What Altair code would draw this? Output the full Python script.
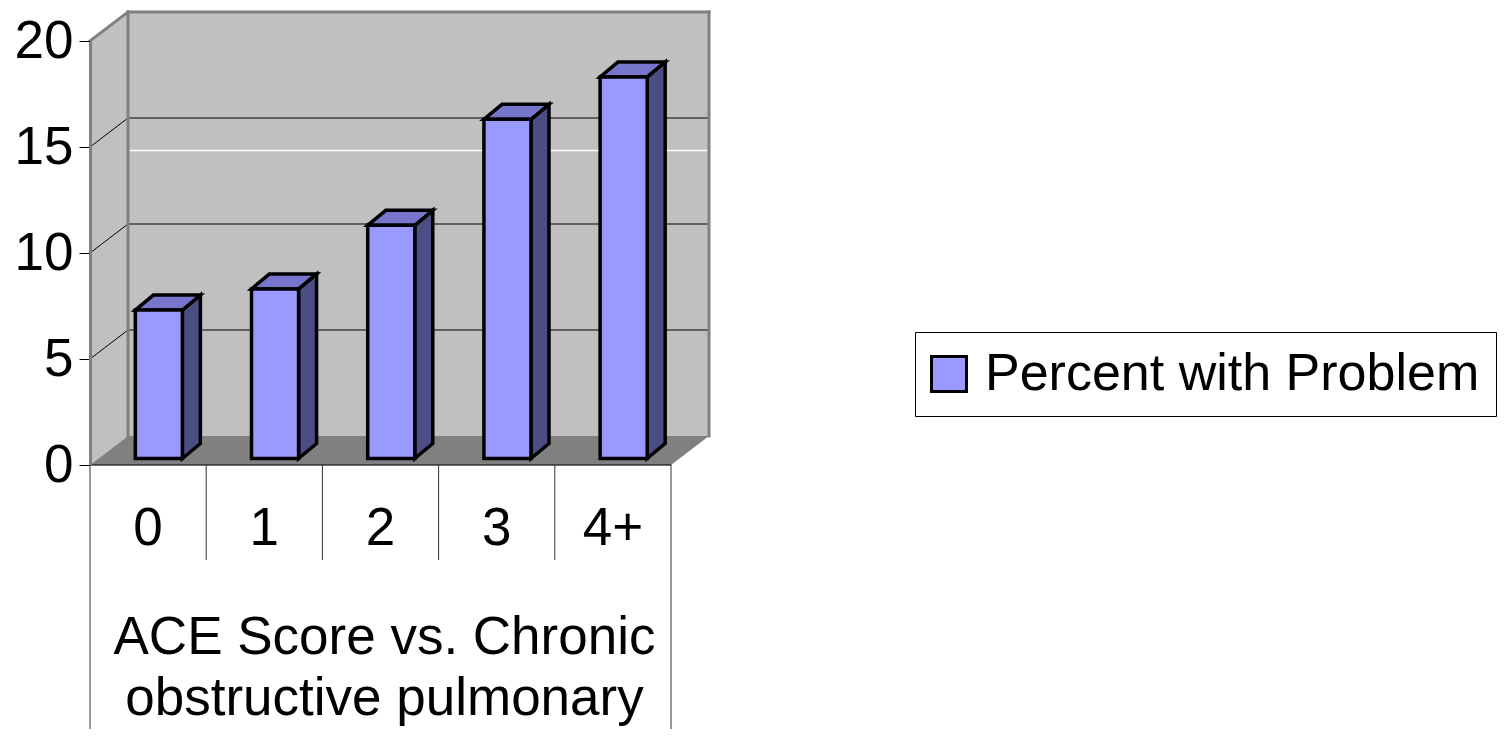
import altair as alt
import pandas as pd

# ---------------- data ----------------
categories = ["0", "1", "2", "3", "4+"]
values = [7, 8, 11, 16, 18]
series_name = "Percent with Problem"
y_ticks = [0, 5, 10, 15, 20]
title_lines = ["ACE Score vs. Chronic", "obstructive pulmonary"]

# ---------------- geometry / styles ----------------
FONT = "Liberation Sans"
FS = 53
W, H = 581, 424                      # front plane of the 3-D box (plot area)
N = len(categories)
YMAX = 20
PX_X = W / N                         # px per category unit
PX_Y = H / YMAX                      # px per value unit
WALL_DX = 38 / PX_X                  # depth of the box
WALL_DY = 29 / PX_Y
BAR_L, BAR_R = 0.39, 0.795           # bar front face inside its category
BAR_BASE = 6.5 / PX_Y                # bars stand a little behind the front edge
BAR_DX = 18 / PX_X                   # depth of a bar
BAR_DY = 15 / PX_Y
SW = 3.5                             # bar outline width

C_FRONT, C_TOP, C_SIDE = "#9999FF", "#7676CC", "#4D4D85"
C_WALL, C_FLOOR, C_EDGE = "#C0C0C0", "#808080", "#808080"

xs = alt.Scale(domain=[0, N], nice=False, zero=False)
ys = alt.Scale(domain=[0, YMAX], nice=False, zero=False)

y_axis = alt.Axis(values=y_ticks, title=None, grid=False, domainColor=C_EDGE, domainWidth=3,
                  tickColor="black", tickWidth=1, tickSize=11, labelFontSize=FS, labelFont=FONT,
                  labelColor="black", labelPadding=6, zindex=2, labelFlush=False, labelOverlap=False)


def X(f):
    return alt.X(f, type="quantitative", scale=xs, axis=None)


def Y(f):
    return alt.Y(f, type="quantitative", scale=ys, axis=y_axis, stack=None)


# ---------------- tables built from the arrays ----------------
front_rows, top_rows, side_rows = [], [], []
for i, (c, v) in enumerate(zip(categories, values)):
    x0, x1 = i + BAR_L, i + BAR_R
    y0, y1 = BAR_BASE, BAR_BASE + v
    front_rows.append(dict(cat=c, series=series_name, x0=x0, x1=x1, y0=y0, y1=y1))
    top_rows += [dict(bar=c, yy=y1, xa=x0, xb=x1),
                 dict(bar=c, yy=y1 + BAR_DY, xa=x0 + BAR_DX, xb=x1 + BAR_DX)]
    side_rows += [dict(bar=c, xx=x1, ya=y0, yb=y1),
                  dict(bar=c, xx=x1 + BAR_DX, ya=y0 + BAR_DY, yb=y1 + BAR_DY)]
front_df = pd.DataFrame(front_rows)
top_df = pd.DataFrame(top_rows)
side_df = pd.DataFrame(side_rows)

back_df = pd.DataFrame([dict(x0=WALL_DX, x1=N + WALL_DX, y0=WALL_DY, y1=YMAX + WALL_DY)])
left_df = pd.DataFrame([dict(xx=0, ya=0, yb=YMAX),
                        dict(xx=WALL_DX, ya=WALL_DY, yb=YMAX + WALL_DY)])
floor_df = pd.DataFrame([dict(yy=0, xa=0, xb=N),
                         dict(yy=WALL_DY, xa=WALL_DX, xb=N + WALL_DX)])
grid_vals = [t for t in y_ticks if 0 < t < YMAX]
grid_back_df = pd.DataFrame([dict(x=WALL_DX, x2=N + WALL_DX, y=t + WALL_DY, y2=t + WALL_DY) for t in grid_vals])
grid_left_df = pd.DataFrame([dict(x=0, x2=WALL_DX, y=t, y2=t + WALL_DY) for t in grid_vals])
edges_df = pd.DataFrame([
    dict(x=0, x2=WALL_DX, y=YMAX, y2=YMAX + WALL_DY),
    dict(x=WALL_DX, x2=WALL_DX, y=WALL_DY, y2=YMAX + WALL_DY),
    dict(x=WALL_DX, x2=N + WALL_DX, y=YMAX + WALL_DY, y2=YMAX + WALL_DY),
    dict(x=N + WALL_DX, x2=N + WALL_DX, y=WALL_DY, y2=YMAX + WALL_DY),
])
white_df = pd.DataFrame([dict(x=WALL_DX, x2=N + WALL_DX, y=15)])
base_df = pd.DataFrame([dict(x=0, x2=N, y=0)])
inner_sep_df = pd.DataFrame({"b": list(range(1, N))})
outer_sep_df = pd.DataFrame({"b": [0, N]})
label_df = pd.DataFrame({"cat": categories, "xc": [i + 0.5 for i in range(N)]})
title_df = pd.DataFrame([dict(t="\n".join(title_lines), xc=N / 2)])

# ---------------- layers ----------------
back = alt.Chart(back_df).mark_rect(color=C_WALL).encode(
    x=X("x0"), x2="x1", y=Y("y0"), y2="y1")
left = alt.Chart(left_df).mark_area(orient="vertical", color=C_WALL).encode(
    x=X("xx"), y=Y("ya"), y2="yb")
floor = alt.Chart(floor_df).mark_area(orient="horizontal", color=C_FLOOR).encode(
    y=Y("yy"), x=X("xa"), x2="xb")
grid_back = alt.Chart(grid_back_df).mark_rule(color="black", strokeWidth=1).encode(
    x=X("x"), x2="x2", y=Y("y"), y2="y2")
grid_left = alt.Chart(grid_left_df).mark_rule(color="black", strokeWidth=1).encode(
    x=X("x"), x2="x2", y=Y("y"), y2="y2")
white = alt.Chart(white_df).mark_rule(color="white", strokeWidth=1.5, yOffset=3.5).encode(
    x=X("x"), x2="x2", y=Y("y"))
edges = alt.Chart(edges_df).mark_rule(color=C_EDGE, strokeWidth=3, strokeCap="square").encode(
    x=X("x"), x2="x2", y=Y("y"), y2="y2")
base = alt.Chart(base_df).mark_rule(color="black", strokeWidth=1).encode(
    x=X("x"), x2="x2", y=Y("y"))
inner_sep = alt.Chart(inner_sep_df).mark_rule(color="#333333", strokeWidth=1).encode(
    x=X("b"), y=alt.value(H), y2=alt.value(H + 95))
outer_sep = alt.Chart(outer_sep_df).mark_rule(color="#333333", strokeWidth=1).encode(
    x=X("b"), y=alt.value(H), y2=alt.value(H + 400))

side = alt.Chart(side_df).mark_area(orient="vertical", color=C_SIDE, stroke="black",
                                    strokeWidth=SW, strokeJoin="miter").encode(
    x=X("xx"), y=Y("ya"), y2="yb", detail="bar:N")
top = alt.Chart(top_df).mark_area(orient="horizontal", color=C_TOP, stroke="black",
                                  strokeWidth=SW, strokeJoin="miter").encode(
    y=Y("yy"), x=X("xa"), x2="xb", detail="bar:N")
front = alt.Chart(front_df).mark_rect(stroke="black", strokeWidth=SW, strokeJoin="miter").encode(
    x=X("x0"), x2="x1", y=Y("y0"), y2="y1",
    color=alt.Color("series:N",
                    scale=alt.Scale(domain=[series_name], range=[C_FRONT]),
                    legend=alt.Legend(orient="none", legendX=825, legendY=291, title=None,
                                      symbolType="square", symbolSize=1225, symbolOffset=-8,
                                      symbolStrokeColor="black", symbolStrokeWidth=3,
                                      labelFontSize=52, labelFont=FONT, labelColor="black",
                                      labelLimit=0, labelOffset=10, padding=16,
                                      strokeColor="black", fillColor="white")),
)

labels = alt.Chart(label_df).mark_text(font=FONT, fontSize=FS, color="black", align="center",
                                       baseline="alphabetic").encode(
    x=X("xc"), y=alt.value(504), text="cat:N")
title = alt.Chart(title_df).mark_text(font=FONT, fontSize=FS, color="black", align="center",
                                      baseline="alphabetic", lineBreak="\n", lineHeight=61,
                                      dx=4).encode(
    x=X("xc"), y=alt.value(613), text="t:N")

chart = alt.layer(
    back, left, floor, grid_back, grid_left, white, edges, base, inner_sep, outer_sep,
    side, top, front, labels, title
).properties(
    width=W, height=H,
    padding={"left": 82, "top": 33, "right": 828, "bottom": 264},
    autosize=alt.AutoSizeParams(type="none"),
    background="white",
).configure_view(stroke=None).configure(font=FONT)

chart.save("out.html", embed_options={"renderer": "svg", "actions": False})
